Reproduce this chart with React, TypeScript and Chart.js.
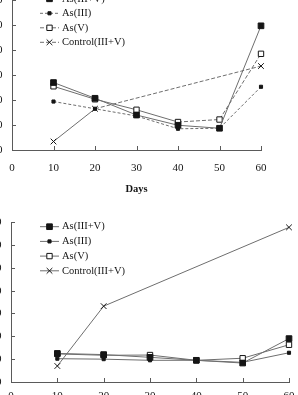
import { useEffect, useRef } from "react";
import { Chart, registerables } from "chart.js";

Chart.register(...registerables);

// Sampling days and series names
const DAYS = [10, 20, 30, 40, 50, 60];
const CONTROL_DAYS = [10, 20, 60];
const SERIES_NAMES = ["As(III+V)", "As(III)", "As(V)", "Control(III+V)"];
const X_TITLE = "Days";

// Upper panel
const TOP_AS_III_V = [27.0, 20.7, 14.0, 9.9, 8.7, 49.7];
const TOP_AS_III = [19.4, 16.5, 13.6, 8.5, 8.7, 25.3];
const TOP_AS_V = [25.5, 20.3, 16.1, 11.2, 12.2, 38.5];
const TOP_CONTROL = [3.4, 16.5, 33.6];

// Lower panel
const BOT_AS_III_V = [12.5, 12.0, 10.8, 9.5, 8.3, 19.0];
const BOT_AS_III = [10.2, 10.0, 9.5, 9.5, 8.6, 12.8];
const BOT_AS_V = [12.3, 11.7, 11.8, 9.5, 10.4, 16.3];
const BOT_CONTROL = [7.0, 33.2, 67.7];

const X_MIN = 0;
const X_MAX = 60;
const X_STEP = 10;
const Y_MIN = 0;
const Y_MAX = 70;
const Y_STEP = 10;

const FONT = '"Liberation Serif", "Times New Roman", serif';
const LINE = "#6e6e6e";
const INK = "#151515";
const AXIS = "#5a5a5a";

type Marker = { style: "rect" | "crossRot"; radius: number; fill: string };
const MARKERS: Marker[] = [
  { style: "rect", radius: 4, fill: INK },
  { style: "rect", radius: 2.2, fill: INK },
  { style: "rect", radius: 3.8, fill: "#ffffff" },
  { style: "crossRot", radius: 4, fill: INK },
];

type DashRule = { dash: number[]; fromIndex: number } | undefined;

function toPoints(xs: number[], ys: number[]) {
  return xs.map((x, i) => ({ x, y: ys[i] }));
}

function buildDatasets(series: number[][], dashes: DashRule[]) {
  const xsFor = [DAYS, DAYS, DAYS, CONTROL_DAYS];
  return series.map((ys, i) => {
    const rule = dashes[i];
    return {
      label: SERIES_NAMES[i],
      data: toPoints(xsFor[i], ys),
      borderColor: LINE,
      borderWidth: 1,
      legendDash: rule ? rule.dash : [],
      segment: {
        borderDash: (c: any) => (rule && c.p0DataIndex >= rule.fromIndex ? rule.dash : []),
      },
      pointStyle: MARKERS[i].style,
      pointRadius: MARKERS[i].radius,
      pointBackgroundColor: MARKERS[i].fill,
      pointBorderColor: INK,
      pointBorderWidth: 1,
      tension: 0,
      fill: false,
      clip: false,
    };
  });
}

function drawMarker(ctx: CanvasRenderingContext2D, m: Marker, x: number, y: number) {
  ctx.save();
  ctx.setLineDash([]);
  ctx.strokeStyle = INK;
  ctx.fillStyle = m.fill;
  ctx.lineWidth = 1;
  const h = m.radius * Math.SQRT1_2;
  ctx.beginPath();
  if (m.style === "rect") {
    ctx.rect(x - h, y - h, 2 * h, 2 * h);
    ctx.fill();
    ctx.stroke();
  } else {
    ctx.moveTo(x - h, y - h);
    ctx.lineTo(x + h, y + h);
    ctx.moveTo(x + h, y - h);
    ctx.lineTo(x - h, y + h);
    ctx.stroke();
  }
  ctx.restore();
}

// Inward axis ticks plus an inset legend
const panelDecor = {
  id: "panelDecor",
  afterDatasetsDraw(chart: any, _args: any, opts: any) {
    const ctx: CanvasRenderingContext2D = chart.ctx;
    const xs = chart.scales.x;
    const ys = chart.scales.y;
    ctx.save();
    ctx.strokeStyle = AXIS;
    ctx.lineWidth = 1;
    const len = opts.tickLen || 4;
    for (const t of xs.ticks) {
      if (t.value === xs.min) continue;
      const px = Math.round(xs.getPixelForValue(t.value)) + 0.5;
      ctx.beginPath();
      ctx.moveTo(px, ys.bottom);
      ctx.lineTo(px, ys.bottom - len);
      ctx.stroke();
    }
    for (const t of ys.ticks) {
      if (t.value === ys.min) continue;
      const py = Math.round(ys.getPixelForValue(t.value)) + 0.5;
      ctx.beginPath();
      ctx.moveTo(xs.left, py);
      ctx.lineTo(xs.left + len, py);
      ctx.stroke();
    }

    ctx.font = `${opts.fontSize}px ${FONT}`;
    ctx.textAlign = "left";
    ctx.textBaseline = "middle";
    chart.data.datasets.forEach((ds: any, i: number) => {
      const y = opts.y + i * opts.gap;
      ctx.save();
      ctx.strokeStyle = LINE;
      ctx.lineWidth = 1;
      ctx.setLineDash(ds.legendDash || []);
      ctx.beginPath();
      ctx.moveTo(opts.x, y);
      ctx.lineTo(opts.x + opts.lineLen, y);
      ctx.stroke();
      ctx.restore();
      drawMarker(ctx, MARKERS[i], opts.x + opts.lineLen / 2, y);
      ctx.fillStyle = INK;
      ctx.fillText(ds.label, opts.textX, y);
    });
    ctx.restore();
  },
};

type PanelProps = {
  series: number[][];
  dashes: DashRule[];
  left: number;
  top: number;
  width: number;
  height: number;
  axisBoxH: number;
  xLabelPad: number;
  showTitle: boolean;
  titlePadBottom: number;
  legend: { x: number; y: number; gap: number; lineLen: number; textX: number; fontSize: number };
};

function Panel(p: PanelProps) {
  const ref = useRef<HTMLCanvasElement | null>(null);
  useEffect(() => {
    if (!ref.current) return;
    const chart = new Chart(ref.current, {
      type: "line",
      data: { datasets: buildDatasets(p.series, p.dashes) as any },
      options: {
        animation: false,
        responsive: false,
        devicePixelRatio: 1,
        events: [],
        layout: { padding: { top: 8, right: 20, bottom: 0, left: 0 } },
        plugins: {
          legend: { display: false },
          tooltip: { enabled: false },
          panelDecor: { ...p.legend, tickLen: 4 },
        } as any,
        scales: {
          x: {
            type: "linear",
            min: X_MIN,
            max: X_MAX,
            grid: { display: false, drawTicks: false },
            border: { display: true, color: AXIS, width: 1 },
            ticks: {
              stepSize: X_STEP,
              autoSkip: false,
              maxRotation: 0,
              padding: p.xLabelPad,
              color: INK,
              font: { family: FONT, size: 11 },
            },
            title: {
              display: p.showTitle,
              text: X_TITLE,
              color: INK,
              font: { family: FONT, size: 10.5, weight: "bold" },
              padding: { top: 0, bottom: p.titlePadBottom },
            },
            afterFit: (s: any) => {
              s.height = p.axisBoxH;
            },
          },
          y: {
            type: "linear",
            min: Y_MIN,
            max: Y_MAX,
            grid: { display: false, drawTicks: false },
            border: { display: true, color: AXIS, width: 1 },
            ticks: {
              stepSize: Y_STEP,
              padding: 9.5,
              color: INK,
              font: { family: FONT, size: 11 },
            },
            afterFit: (s: any) => {
              s.width = 40;
            },
          },
        },
      },
      plugins: [panelDecor as any],
    });
    return () => chart.destroy();
  }, []);
  return (
    <canvas
      ref={ref}
      width={p.width}
      height={p.height}
      style={{ position: "absolute", left: p.left, top: p.top, width: p.width, height: p.height }}
    />
  );
}

export default function App() {
  return (
    <div
      style={{
        position: "fixed",
        left: 0,
        top: 0,
        width: 298,
        height: 395,
        overflow: "hidden",
        background: "#ffffff",
      }}
    >
      <Panel
        series={[TOP_AS_III_V, TOP_AS_III, TOP_AS_V, TOP_CONTROL]}
        dashes={[undefined, { dash: [3, 2], fromIndex: 0 }, { dash: [4, 2], fromIndex: 3 }, { dash: [4, 2], fromIndex: 1 }]}
        left={-28}
        top={-41}
        width={309}
        height={241}
        axisBoxH={50}
        xLabelPad={11.7}
        showTitle={true}
        titlePadBottom={4.7}
        legend={{ x: 68, y: 39.8, gap: 14.5, lineLen: 19, textX: 90, fontSize: 10.5 }}
      />
      <Panel
        series={[BOT_AS_III_V, BOT_AS_III, BOT_AS_V, BOT_CONTROL]}
        dashes={[undefined, undefined, undefined, undefined]}
        left={-29}
        top={206}
        width={338}
        height={216}
        axisBoxH={40}
        xLabelPad={7.4}
        showTitle={false}
        titlePadBottom={0}
        legend={{ x: 69, y: 20.7, gap: 14.7, lineLen: 19, textX: 91, fontSize: 10.5 }}
      />
    </div>
  );
}
